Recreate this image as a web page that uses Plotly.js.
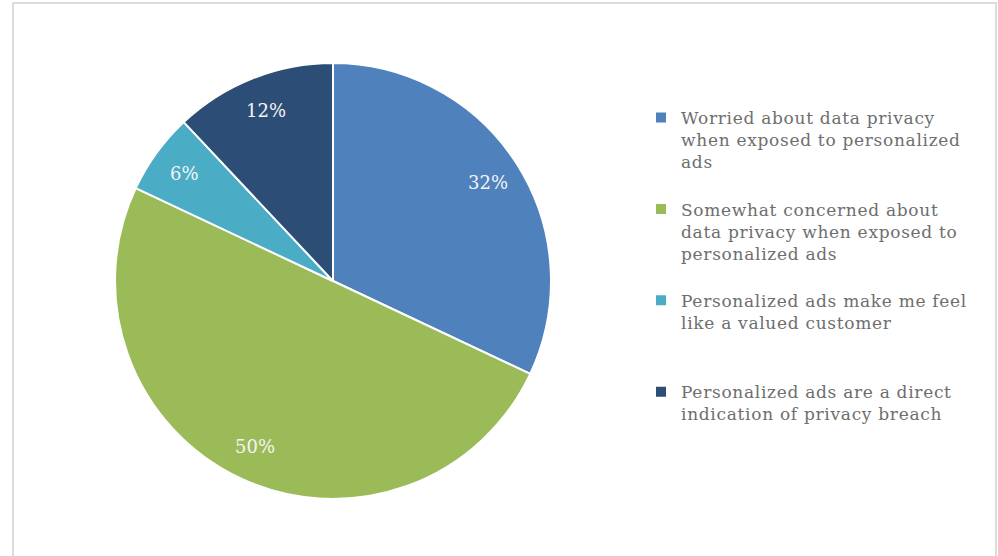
<!DOCTYPE html>
<html>
<head>
<meta charset="utf-8">
<script src="https://cdn.plot.ly/plotly-3.0.1.min.js"></script>
<style>
html,body{margin:0;padding:0;background:#fff;}
#chart{width:998px;height:556px;}
.legendtext{letter-spacing:0.7px;}
</style>
</head>
<body>
<div id="chart"></div>
<script>
const categories = [
  "Worried about data privacy<br>when exposed to personalized<br>ads",
  "Somewhat concerned about<br>data privacy when exposed to<br>personalized ads",
  "Personalized ads make me feel<br>like a valued customer",
  "Personalized ads are a direct<br>indication of privacy breach"
];
const values = [32, 50, 6, 12];
const percentLabels = ["32%", "50%", "6%", "12%"];
const sliceColors = ["#4F81BD", "#9BBB59", "#4BACC6", "#2C4D75"];

const W = 998, H = 556;
const cxPx = 333, cyPx = 281, Rpx = 218;
const cx = cxPx / W, cy = 1 - cyPx / H;

// pad legend entries to equal slot heights (as in the original legend)
const maxLines = 4;
const legendLabels = categories.map(c => {
  const n = c.split("<br>").length;
  return c + "<br> ".repeat(maxLines - n);
});

const total = values.reduce((a, b) => a + b, 0);
let cum = 0;
const annotations = values.map((v, i) => {
  const mid = (cum + v / 2) / total * 2 * Math.PI;
  cum += v;
  const r = 0.84 * Rpx;
  return {
    x: cx + r * Math.sin(mid) / W,
    y: cy + r * Math.cos(mid) / H,
    xref: "paper", yref: "paper",
    xanchor: "center", yanchor: "middle",
    text: percentLabels[i], showarrow: false,
    font: {family: "DejaVu Serif", size: 18, color: "#F4F4F4"}
  };
});

const trace = {
  type: "pie",
  labels: legendLabels,
  values: values,
  sort: false,
  direction: "clockwise",
  rotation: 0,
  textinfo: "none",
  hoverinfo: "none",
  marker: {colors: sliceColors, line: {color: "#FFFFFF", width: 2}},
  domain: {x: [cx - Rpx / W, cx + Rpx / W], y: [cy - Rpx / H, cy + Rpx / H]}
};

const layout = {
  width: W, height: H,
  margin: {l: 0, r: 0, t: 0, b: 0},
  paper_bgcolor: "#FFFFFF",
  showlegend: true,
  legend: {
    x: 641 / W, y: 1 - 100 / H, xanchor: "left", yanchor: "top",
    valign: "top",
    font: {family: "DejaVu Serif", size: 17, color: "#6E6E6E"},
    bgcolor: "rgba(0,0,0,0)", itemclick: false, itemdoubleclick: false
  },
  annotations: annotations,
  shapes: [{
    type: "rect", xref: "paper", yref: "paper",
    x0: 13 / W, x1: 996 / W, y0: -0.02, y1: 1 - 3 / H,
    line: {color: "#DCDCDC", width: 2}, fillcolor: "rgba(0,0,0,0)", layer: "below"
  }]
};

Plotly.newPlot("chart", [trace], layout, {displayModeBar: false, staticPlot: true});
</script>
</body>
</html>
